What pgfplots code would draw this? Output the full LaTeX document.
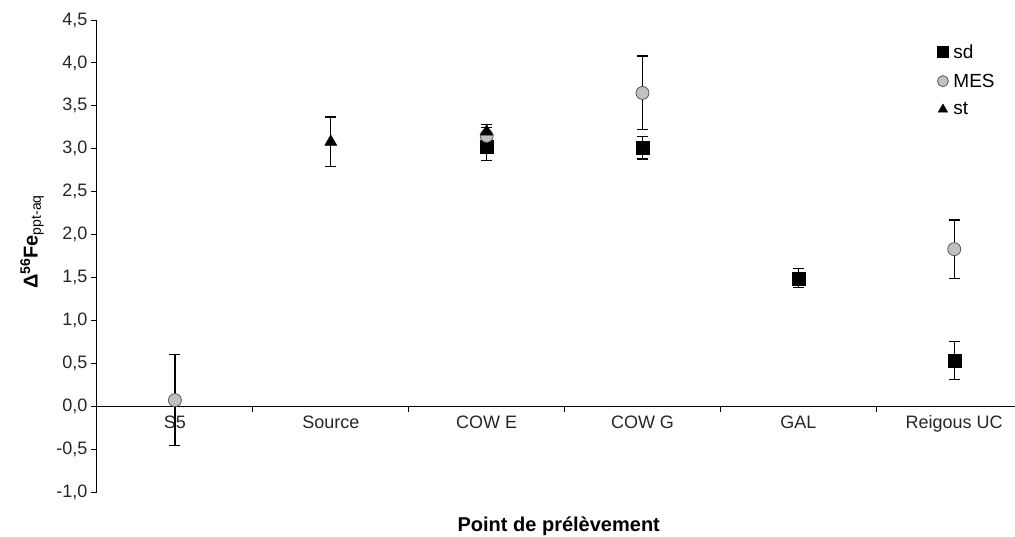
\documentclass[border=0pt]{standalone}
\usepackage{pgfplots}
\pgfplotsset{compat=1.18}
\usepackage{fontspec}
\setmainfont{Liberation Sans}
\definecolor{mesfill}{RGB}{192,192,192}
\definecolor{mesdraw}{RGB}{90,90,90}
\begin{document}
\begin{tikzpicture}[x=1pt,y=1pt]
\useasboundingbox (0,0) rectangle (1015,536);
\begin{axis}[
  at={(97pt,44pt)}, anchor=south west,
  scale only axis, width=918pt, height=472pt,
  xmin=-0.5, xmax=5.39, ymin=-1, ymax=4.5,
  axis y line=left, axis x line=middle,
  axis line style={-, black, line width=1pt},
  hide obscured x ticks=false, hide obscured y ticks=false,
  tick align=outside,
  major tick length=6pt,
  tick style={black, line width=1pt},
  ytick={-1,-0.5,...,4.5},
  yticklabel style={/pgf/number format/.cd, fixed, fixed zerofill, precision=1, use comma, assume math mode=true},
  xtick={0.5,1.5,2.5,3.5,4.5},
  xticklabels={},
  extra x ticks={0,1,2,3,4,5},
  extra x tick labels={S5,Source,COW E,COW G,GAL,Reigous UC},
  extra x tick style={major tick length=0pt, xticklabel style={yshift=-6pt}},
  every tick label/.append style={font=\fontsize{18}{20}\selectfont, text=black!85},
  clip=false,
  xlabel={\textbf{Point de prélèvement}},
  every axis x label/.style={at={(axis description cs:0.503,-0.073)}, anchor=center, font=\fontsize{20}{22}\selectfont},
  ylabel={\textbf{Δ\textsuperscript{56}Fe}\textsubscript{ppt-aq}},
  every axis y label/.style={at={(axis description cs:-0.0708,0.53)}, anchor=center, rotate=90, font=\fontsize{20}{22}\selectfont},
  legend style={draw=none, fill=none, at={(0.912,0.957)}, anchor=north west,
    font=\fontsize{19}{22}\selectfont, row sep=10pt, cells={anchor=west}, nodes={inner xsep=5pt}},
  legend cell align=left,
  legend image post style={mark size=5.5pt},
  error bars/error bar style={black, line width=1.2pt},
  error bars/error mark options={black, rotate=90, mark size=5.5pt, line width=1.2pt},
]
\addplot[only marks, mark=square*, mark size=6.5pt, mark options={fill=black, draw=black},
  error bars/.cd, y dir=both, y explicit]
  coordinates {(2,3.02) +- (0,0.16) (3,3.01) +- (0,0.13) (4,1.49) +- (0,0.11) (5,0.53) +- (0,0.22)};
\addlegendentry{sd}
\addplot[only marks, mark=*, mark size=6.5pt, mark options={fill=mesfill, draw=mesdraw, line width=0.8pt},
  error bars/.cd, y dir=both, y explicit]
  coordinates {(0,0.07) +- (0,0.53) (2,3.15) +- (0,0.10) (3,3.65) +- (0,0.43) (5,1.83) +- (0,0.34)};
\addlegendentry{MES}
\addplot[only marks, mark=triangle*, mark size=7pt, mark options={fill=black, draw=black},
  error bars/.cd, y dir=both, y explicit]
  coordinates {(1,3.08) +- (0,0.29) (2,3.20) +- (0,0.08)};
\addlegendentry{st}
\end{axis}
\end{tikzpicture}
\end{document}
